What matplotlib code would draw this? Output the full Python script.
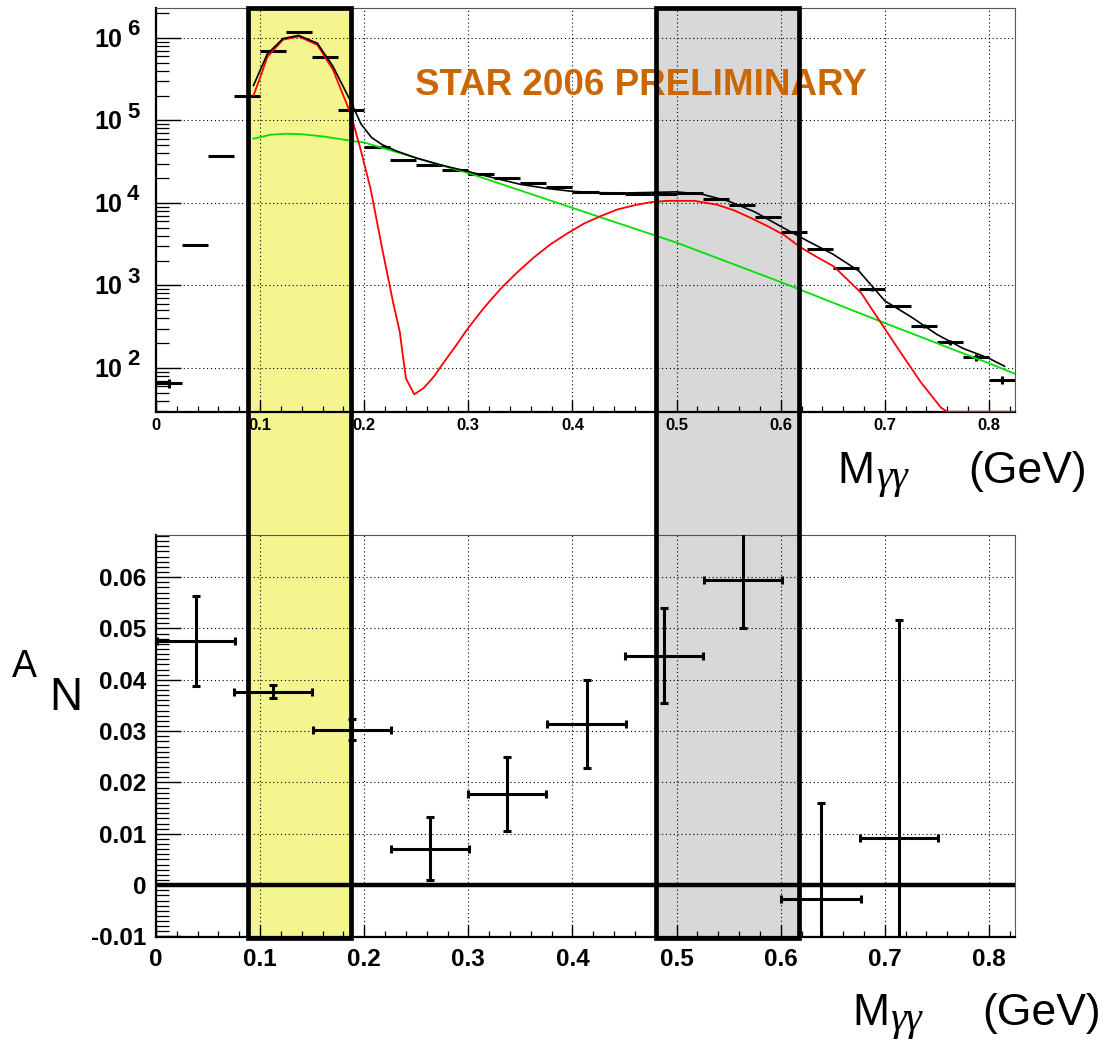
import matplotlib
matplotlib.use('Agg')
import matplotlib.pyplot as plt
import matplotlib.transforms as mtransforms
from matplotlib.patches import Rectangle
from matplotlib.ticker import FixedLocator, FixedFormatter, MultipleLocator, LogLocator, NullFormatter
import numpy as np

plt.rcParams['font.family'] = ['Liberation Sans', 'DejaVu Sans']

# --- top panel: M_gg spectrum, 0.025 GeV bins ---
bin_edges = [0.000, 0.025, 0.050, 0.075, 0.100, 0.125, 0.150, 0.175, 0.200, 0.225,
             0.250, 0.275, 0.300, 0.325, 0.350, 0.375, 0.400, 0.425, 0.450, 0.475,
             0.500, 0.525, 0.550, 0.575, 0.600, 0.625, 0.650, 0.675, 0.700, 0.725,
             0.750, 0.775, 0.800, 0.825]
counts = [66, 3050, 3.7e4, 2.0e5, 6.9e5, 1.18e6, 5.9e5, 1.32e5, 4.7e4, 3.3e4,
          2.87e4, 2.51e4, 2.27e4, 2.03e4, 1.76e4, 1.58e4, 1.37e4, 1.32e4, 1.30e4, 1.30e4,
          1.31e4, 1.12e4, 9.5e3, 6.8e3, 4.45e3, 2.75e3, 1.64e3, 895, 561, 321,
          206, 135, 72]
count_err = [8, 55, 190, 450, 830, 1090, 770, 360, 220, 180,
             170, 160, 150, 140, 130, 125, 117, 115, 114, 114,
             114, 106, 97, 82, 67, 52, 40, 30, 24, 18,
             14, 12, 8]

# fit curves
total_x = [0.0936, 0.107, 0.122, 0.137, 0.155, 0.170, 0.187, 0.197, 0.207, 0.217,
           0.230, 0.250, 0.275, 0.300, 0.325, 0.350, 0.375, 0.400, 0.425, 0.450,
           0.475, 0.500, 0.525, 0.550, 0.575, 0.600, 0.625, 0.650, 0.675, 0.700,
           0.725, 0.750, 0.775, 0.800, 0.815]
total_y = [2.65e5, 6.4e5, 9.8e5, 1.07e6, 8.6e5, 4.5e5, 1.7e5, 9.0e4, 6.2e4, 5.1e4,
           4.3e4, 3.5e4, 2.85e4, 2.4e4, 2.0e4, 1.68e4, 1.5e4, 1.38e4, 1.33e4, 1.32e4,
           1.34e4, 1.36e4, 1.27e4, 1.05e4, 7.8e3, 5.2e3, 3.5e3, 2.4e3, 1.5e3, 650,
           418, 255, 173, 131, 105]

signal_x = [0.0936, 0.100, 0.107, 0.122, 0.137, 0.155, 0.170, 0.187, 0.196, 0.206,
            0.218, 0.228, 0.234, 0.240, 0.248, 0.257, 0.267, 0.276, 0.288, 0.299,
            0.315, 0.331, 0.347, 0.363, 0.379, 0.395, 0.411, 0.427, 0.443, 0.459,
            0.475, 0.491, 0.517, 0.539, 0.555, 0.571, 0.587, 0.603, 0.619, 0.635,
            0.651, 0.677, 0.696, 0.715, 0.735, 0.754, 0.760, 0.825]
signal_y = [2.0e5, 3.3e5, 5.9e5, 9.5e5, 1.04e6, 8.2e5, 4.1e5, 1.2e5, 4.7e4, 1.5e4,
            2.5e3, 600, 280, 75, 48, 57, 79, 115, 186, 295,
            537, 912, 1445, 2190, 3160, 4270, 5620, 6920, 8320, 9330,
            1.02e4, 1.06e4, 1.06e4, 9.5e3, 8150, 6.6e3, 5260, 4.1e3, 2.9e3, 2.2e3,
            1.7e3, 820, 356, 155, 66, 33, 29.5, 29.5]

bkg_x = [0.0936, 0.110, 0.125, 0.140, 0.160, 0.190, 0.200, 0.250, 0.300, 0.400,
         0.500, 0.600, 0.700, 0.800, 0.825]
bkg_y = [6.0e4, 6.7e4, 6.9e4, 6.8e4, 6.4e4, 5.6e4, 5.4e4, 3.5e4, 2.3e4, 8.7e3,
         3.3e3, 1.1e3, 350, 114, 85]

# --- bottom panel: A_N vs M_gg ---
an_x = [0.038, 0.1125, 0.188, 0.263, 0.3375, 0.4135, 0.4875, 0.5635, 0.6385, 0.7135]
an_xerr = [0.0375, 0.0375, 0.0375, 0.0375, 0.0375, 0.0375, 0.0375, 0.0375, 0.0385, 0.0375]
an_y = [0.0475, 0.0377, 0.0303, 0.0071, 0.0178, 0.0314, 0.0447, 0.0594, -0.0027, 0.0092]
an_yerr = [0.0088, 0.0013, 0.0020, 0.0061, 0.0072, 0.0086, 0.0092, 0.0094, 0.0187, 0.0424]

top_xticks = [0, 0.1, 0.2, 0.3, 0.4, 0.5, 0.6, 0.7, 0.8]
top_xlabels = ['0', '0.1', '0.2', '0.3', '0.4', '0.5', '0.6', '0.7', '0.8']
top_exponents = [2, 3, 4, 5, 6]
bot_yticks = [-0.01, 0, 0.01, 0.02, 0.03, 0.04, 0.05, 0.06]
bot_ylabels = ['-0.01', '0', '0.01', '0.02', '0.03', '0.04', '0.05', '0.06']

# selection windows (pi0 and eta)
pi0_window = (0.0885, 0.187)
eta_window = (0.480, 0.618)

W, H = 1109, 1048
fig = plt.figure(figsize=(W / 100, H / 100), dpi=100)
fig.patch.set_facecolor('white')


def px_rect(left, top, right, bottom):
    return [left / W, 1 - bottom / H, (right - left) / W, (bottom - top) / H]


ax_top = fig.add_axes(px_rect(156, 8, 1015, 412))
ax_bot = fig.add_axes(px_rect(156, 535, 1015, 937))

grid_kw = dict(color='black', linestyle=(0, (1, 2.5)), linewidth=0.8)

for ax in (ax_top, ax_bot):
    ax.set_facecolor('none')
    ax.set_xlim(0, 0.825)
    ax.set_xticks(top_xticks)
    ax.xaxis.set_minor_locator(MultipleLocator(0.02))
    ax.grid(True, which='major', **grid_kw)
    ax.spines['left'].set_linewidth(1.6)
    ax.spines['bottom'].set_linewidth(1.6)
    for s in ('top', 'right'):
        ax.spines[s].set_linewidth(0.8)
        ax.spines[s].set_color('#555555')
    ax.tick_params(which='both', direction='in', top=False, right=False, color='black')
    ax.tick_params(axis='y', which='major', length=18, width=1.0)
    ax.tick_params(axis='y', which='minor', length=9, width=0.9)
    ax.tick_params(axis='x', which='major', length=9, width=1.0)
    ax.tick_params(axis='x', which='minor', length=4.5, width=0.9)

# ---- top panel ----
ax_top.set_yscale('log')
ax_top.set_ylim(29.3, 2.3e6)
ax_top.yaxis.set_major_locator(FixedLocator([10.0 ** k for k in top_exponents]))
ax_top.yaxis.set_minor_locator(LogLocator(base=10, subs=np.arange(2, 10), numticks=20))
ax_top.yaxis.set_major_formatter(NullFormatter())
ax_top.yaxis.set_minor_formatter(NullFormatter())
ax_top.set_xticklabels(top_xlabels, fontsize=12, fontweight='bold')
ax_top.tick_params(axis='x', pad=4)

centers = [(a + b) / 2 for a, b in zip(bin_edges[:-1], bin_edges[1:])]
halfw = [(b - a) / 2 for a, b in zip(bin_edges[:-1], bin_edges[1:])]
ax_top.errorbar(centers, counts, xerr=halfw, yerr=count_err, fmt='none',
                ecolor='black', elinewidth=2.2, capsize=0, zorder=3)
ax_top.plot(bkg_x, bkg_y, color='#00e000', lw=1.3, zorder=4)
ax_top.plot(signal_x, signal_y, color='#ff0000', lw=1.3, zorder=4)
ax_top.plot(total_x, total_y, color='black', lw=1.2, zorder=5)

ytrans = mtransforms.blended_transform_factory(ax_top.transAxes, ax_top.transData)
exp_trans = mtransforms.offset_copy(ytrans, fig=fig, x=0, y=8, units='dots')
base_trans = mtransforms.offset_copy(ytrans, fig=fig, x=0, y=-2, units='dots')
for k in top_exponents:
    ax_top.text(-0.0396, 10.0 ** k, '10', transform=base_trans, ha='right', va='center',
                fontsize=18, fontweight='bold', clip_on=False)
    ax_top.text(-0.0338, 10.0 ** k, str(k), transform=exp_trans, ha='left', va='center',
                fontsize=16, fontweight='bold', clip_on=False)

fig.text(415 / W, 1 - 95 / H, 'STAR 2006 PRELIMINARY', color='#cc6600',
         fontsize=26.5, fontweight='bold', ha='left', va='baseline', zorder=3)

# ---- bottom panel ----
ax_bot.set_ylim(-0.0101, 0.0682)
ax_bot.yaxis.set_major_locator(FixedLocator(bot_yticks))
ax_bot.yaxis.set_major_formatter(FixedFormatter(bot_ylabels))
ax_bot.yaxis.set_minor_locator(MultipleLocator(0.001))
ax_bot.set_xticklabels(top_xlabels)
for lab in ax_bot.get_xticklabels() + ax_bot.get_yticklabels():
    lab.set_fontsize(17.5)
    lab.set_fontweight('bold')
ax_bot.tick_params(axis='x', pad=8)
ax_bot.tick_params(axis='y', pad=7)

ax_bot.axhline(0, color='black', lw=3.2, zorder=3)
ax_bot.errorbar(an_x, an_y, xerr=an_xerr, yerr=an_yerr, fmt='none', ecolor='black',
                elinewidth=2.2, capsize=3, capthick=2.2, zorder=4)

# ---- selection windows spanning both panels ----
band_trans = mtransforms.blended_transform_factory(ax_top.transData, fig.transFigure)
y_lo, y_hi = 1 - 937.5 / H, 1 - 8 / H
for (x0, x1), col in ((pi0_window, '#f5f590'), (eta_window, '#d8d8d8')):
    fig.add_artist(Rectangle((x0, y_lo), x1 - x0, y_hi - y_lo, transform=band_trans,
                             facecolor=col, edgecolor='none', zorder=-1))
    fig.add_artist(Rectangle((x0, y_lo), x1 - x0, y_hi - y_lo, transform=band_trans,
                             facecolor='none', edgecolor='black', lw=3.4, zorder=6))

# ---- axis titles ----
def mass_label(x_m, x_g, x_gev, base):
    fig.text(x_m / W, 1 - base / H, 'M', fontsize=32, ha='left', va='baseline')
    fig.text(x_g / W, 1 - (base + 5) / H, '\u03b3\u03b3', fontsize=29, ha='left', va='baseline',
             family=['Liberation Serif', 'DejaVu Serif'], style='italic')
    fig.text(x_gev / W, 1 - base / H, '(GeV)', fontsize=32, ha='left', va='baseline')


mass_label(837, 876, 968, 483)
mass_label(852, 890, 982, 1025)

fig.text(12 / W, 1 - 677 / H, 'A', fontsize=27, ha='left', va='baseline')
fig.text(49 / W, 1 - 710 / H, 'N', fontsize=33, ha='left', va='baseline')

fig.savefig('out.png', dpi=100, facecolor='white')
